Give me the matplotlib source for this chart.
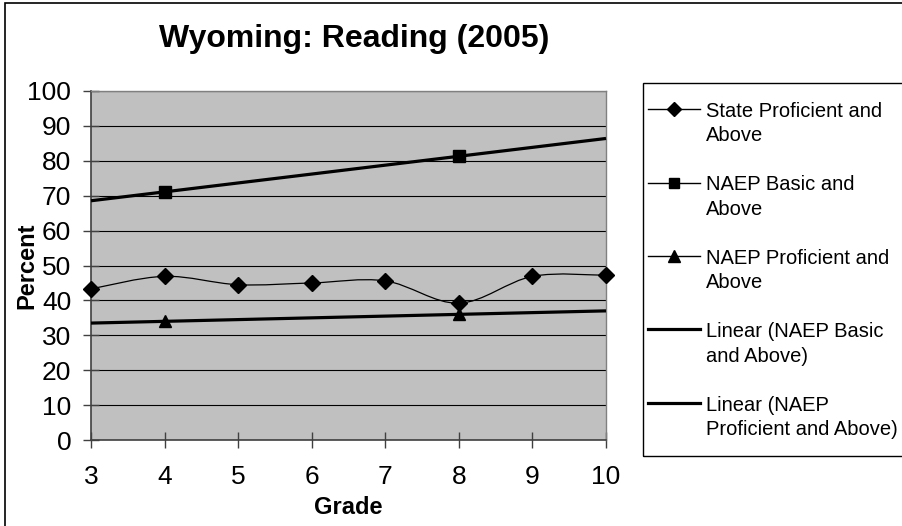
import numpy as np
import matplotlib
matplotlib.use("Agg")
import matplotlib.pyplot as plt
from matplotlib.path import Path
from matplotlib.patches import PathPatch, Rectangle
from matplotlib.lines import Line2D

plt.rcParams['font.family'] = ['Liberation Sans', 'DejaVu Sans']

# data
grades = [3, 4, 5, 6, 7, 8, 9, 10]
state_prof = [43.3, 46.9, 44.5, 45.0, 45.6, 39.2, 46.9, 47.2]
naep_grades = [4, 8]
naep_basic = [71.1, 81.3]
naep_prof = [34.0, 36.0]

title = 'Wyoming: Reading (2005)'
labels = ['State Proficient and\nAbove', 'NAEP Basic and\nAbove',
          'NAEP Proficient and\nAbove', 'Linear (NAEP Basic\nand Above)',
          'Linear (NAEP\nProficient and Above)']


def smooth_path(xs, ys):
    # Excel-style smoothed line: Catmull-Rom converted to cubic Bezier segments
    pts = list(zip(xs, ys))
    verts = [pts[0]]
    codes = [Path.MOVETO]
    n = len(pts)
    for i in range(n - 1):
        p0 = pts[i - 1] if i > 0 else pts[i]
        p1 = pts[i]
        p2 = pts[i + 1]
        p3 = pts[i + 2] if i + 2 < n else pts[i + 1]
        c1 = (p1[0] + (p2[0] - p0[0]) / 6, p1[1] + (p2[1] - p0[1]) / 6)
        c2 = (p2[0] - (p3[0] - p1[0]) / 6, p2[1] - (p3[1] - p1[1]) / 6)
        verts += [c1, c2, p2]
        codes += [Path.CURVE4] * 3
    return Path(verts, codes)


fig = plt.figure(figsize=(9.02, 5.26), dpi=100)
ax = fig.add_axes([91 / 902, 1 - 440 / 526, 515 / 902, 349 / 526])
ax.set_facecolor('#c0c0c0')

# outer chart border (left/top visible only)
fig.add_artist(Rectangle((5 / 902, -0.1), 1.2, 1.1 - 3 / 526, transform=fig.transFigure,
                         fill=False, edgecolor='black', linewidth=1.2))
# legend box (runs off the right edge like the original)
fig.add_artist(Rectangle((643 / 902, 1 - 456 / 526), 0.4, 373 / 526,
                         transform=fig.transFigure, fill=False,
                         edgecolor='black', linewidth=1.0))

# state series, smoothed
ax.add_patch(PathPatch(smooth_path(grades, state_prof), fill=False,
                       edgecolor='black', linewidth=0.9, zorder=3))
ax.plot(grades, state_prof, linestyle='none', marker='D', markersize=8,
        color='black', zorder=4, clip_on=False)

# NAEP series
ax.plot(naep_grades, naep_basic, color='black', linewidth=0.9, marker='s',
        markersize=8.5, zorder=4)
ax.plot(naep_grades, naep_prof, color='black', linewidth=0.9, marker='^',
        markersize=9, zorder=4)

# linear trend lines extended across grades 3-10
xt = np.array([grades[0], grades[-1]])
b1 = np.polyfit(naep_grades, naep_basic, 1)
b2 = np.polyfit(naep_grades, naep_prof, 1)
ax.plot(xt, np.polyval(b1, xt), color='black', linewidth=2.3, zorder=3,
        solid_capstyle='butt', clip_on=False)
ax.plot(xt, np.polyval(b2, xt), color='black', linewidth=2.3, zorder=3,
        solid_capstyle='butt', clip_on=False)

ax.set_xlim(3, 10)
ax.set_ylim(0, 100)
ax.set_xticks(grades)
ax.set_yticks(range(0, 101, 10))
ax.yaxis.grid(True, color='black', linewidth=0.8)
ax.set_axisbelow(True)
ax.tick_params(direction='inout', length=11.5, width=1, labelsize=19,
               color='#404040')
ax.tick_params(axis='y', pad=8.5)
ax.tick_params(axis='x', pad=12)
for s in ['left', 'bottom']:
    ax.spines[s].set_color('#404040')
    ax.spines[s].set_linewidth(1.2)
for s in ['top', 'right']:
    ax.spines[s].set_color('#808080')
    ax.spines[s].set_linewidth(1.0)

ax.set_xlabel('Grade', fontsize=17, fontweight='bold')
ax.set_ylabel('Percent', fontsize=17, fontweight='bold')
ax.xaxis.set_label_coords(0.5, (440 - 507) / 349)
ax.yaxis.set_label_coords((27 - 91) / 515, 0.5)
ax.xaxis.label.set_va('center')
ax.yaxis.label.set_va('center')
fig.text(354 / 902, 1 - 39 / 526, title, fontsize=23, fontweight='bold',
         ha='center', va='center')

# legend
handles = [
    Line2D([], [], color='black', linewidth=1.0, marker='D', markersize=7),
    Line2D([], [], color='black', linewidth=1.0, marker='s', markersize=7.5),
    Line2D([], [], color='black', linewidth=1.0, marker='^', markersize=8.5),
    Line2D([], [], color='black', linewidth=2.3),
    Line2D([], [], color='black', linewidth=2.3),
]
leg = fig.legend(handles, labels, loc='upper left',
                 bbox_to_anchor=(648 / 902, 1 - 102 / 526), fontsize=14.5,
                 frameon=False, handlelength=2.6, handletextpad=0.26,
                 borderpad=0, labelspacing=1.5, borderaxespad=0)
for t in leg.get_texts():
    t.set_linespacing(1.35)
for col in leg._legend_handle_box.get_children():
    for row in col.get_children():
        row.align = 'top'

fig.savefig('out.png', dpi=100)
